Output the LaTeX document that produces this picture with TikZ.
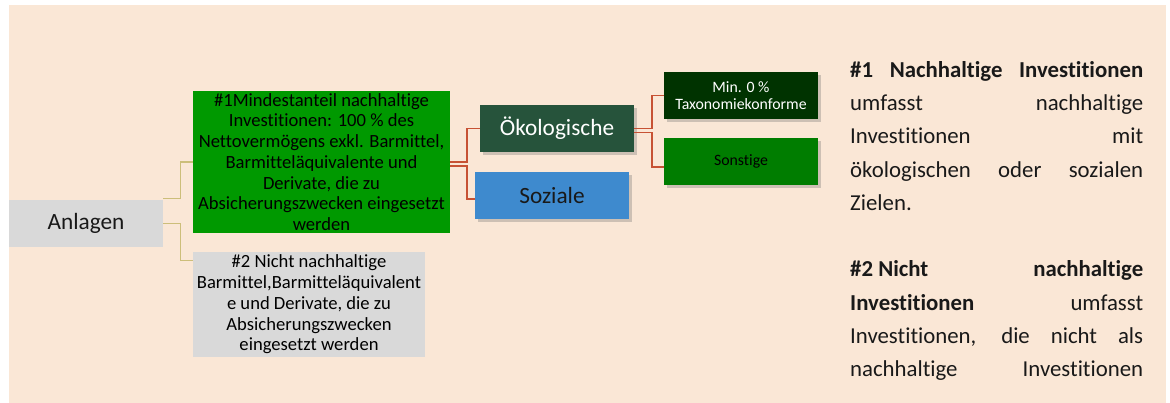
\documentclass[tikz,border=0pt]{standalone}
\usepackage{fontspec}
\setmainfont{Carlito}[Ligatures=NoCommon]
\usepackage{tikz}
\usetikzlibrary{positioning,shadows}
\definecolor{bgbeige}{RGB}{250,231,214}
\definecolor{boxgrey}{RGB}{217,217,217}
\definecolor{mingreen}{RGB}{0,153,0}
\definecolor{oekgreen}{RGB}{38,83,59}
\definecolor{sozblue}{RGB}{62,138,206}
\definecolor{taxgreen}{RGB}{0,51,0}
\definecolor{restgreen}{RGB}{0,125,0}
\definecolor{khaki}{RGB}{204,190,122}
\definecolor{linkred}{RGB}{199,82,52}
\newcommand{\jline}[1]{\makebox[293pt][s]{#1}}

\begin{document}
\begin{tikzpicture}[x=1pt,y=-1pt,unit/.style={inner sep=0pt,align=center,minimum width=154pt,minimum height=47pt},big/.style={font=\fontsize{23.3}{28}\selectfont},body/.style={font=\fontsize{18.6}{20.7}\selectfont},small/.style={font=\fontsize{15.8}{17.3}\selectfont},shade/.style={drop shadow={shadow xshift=2.5pt,shadow yshift=-3pt,opacity=0.3,fill=black!60}},trunk/.style={draw=khaki,line width=1.3pt},branch/.style={draw=linkred,line width=1.8pt}]
\useasboundingbox (0,0) rectangle (1170,403);
\fill[bgbeige] (9,5) rectangle (1166,403);
\node[unit,big,fill=boxgrey,text=black!90] (anl) at (86,223.5) {Anlagen};
\node[unit,body,fill=mingreen,minimum width=257pt,minimum height=142pt] (inv) at (321.5,162) {\#1Mindestanteil nachhaltige\\Investitionen: 100 \% des\\Nettovermögens exkl. Barmittel,\\Barmitteläquivalente und\\Derivate, die zu\\Absicherungszwecken eingesetzt\\werden};
\node[unit,body,fill=boxgrey,minimum width=232pt,minimum height=105pt] (rest) at (309,304.5) {\#2 Nicht nachhaltige\\Barmittel,Barmitteläquivalent\\e und Derivate, die zu\\Absicherungszwecken\\eingesetzt werden};
\node[unit,big,shade,fill=oekgreen,text=white] (oek) at (557,128.5) {Ökologische};
\node[unit,big,shade,fill=sozblue,text=black!90] (soz) at (552,195.5) {Soziale};
\node[unit,small,shade,fill=taxgreen,text=white] (tax) at (741,95.5) {Min. 0 \%\\Taxonomiekonforme};
\node[unit,small,shade,fill=restgreen,text=black,below=19pt of tax] (son) {Sonstige};
\draw[trunk]([yshift=1pt]anl.north east)--++(17,0)|-(inv.west);
\draw[trunk](anl.east)--++(17,0)|-([yshift=-9pt]rest.north west);
\draw[branch](inv.east)--++(17,0)|-(oek.west);
\draw[branch]([yshift=-4pt]inv.east)--++(17,0)|-([yshift=-3.5pt]soz.west);
\draw[branch](oek.east)--++(18,0)|-(tax.west);
\draw[branch]([yshift=-4pt]oek.east)--++(18,0)|-([yshift=-5.5pt]son.west);
\node[anchor=north west,inner sep=0pt,align=left,text=black!90,font=\fontsize{22.8}{33.3}\selectfont] (note) at (850,61) {\jline{\textbf{\#1 Nachhaltige Investitionen}}\\\jline{umfasst nachhaltige}\\\jline{Investitionen mit}\\\jline{ökologischen oder sozialen}\\Zielen.\\\mbox{}\\\jline{\textbf{\#2\hspace{.226em}Nicht nachhaltige}}\\\jline{\textbf{Investitionen} umfasst}\\\jline{Investitionen, die nicht als}\\\jline{nachhaltige Investitionen}};
\end{tikzpicture}
\end{document}
